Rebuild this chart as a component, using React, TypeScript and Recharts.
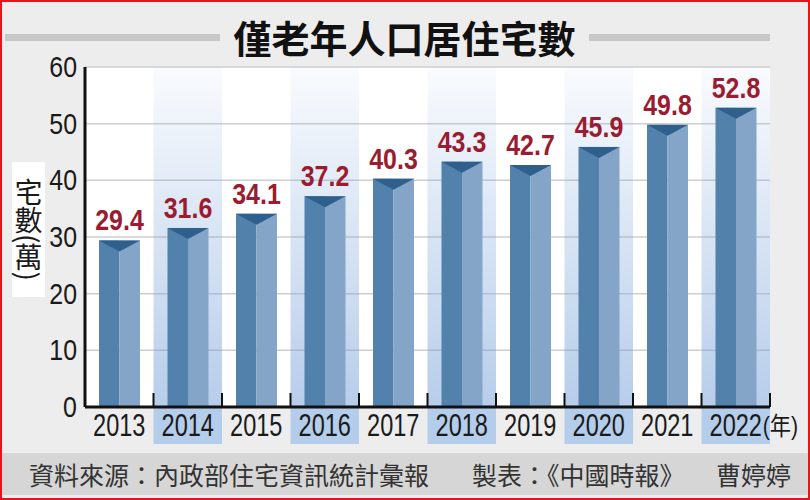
import React from "react";
import { BarChart, Bar, XAxis, YAxis, CartesianGrid, ReferenceArea, LabelList } from "recharts";

// 僅老年人口居住宅數 (萬宅), 2013-2022
const years = ["2013", "2014", "2015", "2016", "2017", "2018", "2019", "2020", "2021", "2022"];
const homes = [29.4, 31.6, 34.1, 37.2, 40.3, 43.3, 42.7, 45.9, 49.8, 52.8];
const shadedYears = ["2014", "2016", "2018", "2020", "2022"];
const yTicks = [0, 10, 20, 30, 40, 50, 60];

const W = 810;
const H = 500;
const PLOT_LEFT = 85;
const PLOT_RIGHT = 770;
const PLOT_TOP = 67;
const PLOT_BOTTOM = 407;
const BAND_W = (PLOT_RIGHT - PLOT_LEFT) / years.length;

const NUM_FONT = "'Liberation Sans', Arial, sans-serif";
const CJK_FONT = "'Noto Sans CJK TC', 'Noto Sans CJK SC', sans-serif";

const data = years.map((year, i) => ({ year, value: homes[i] }));

const BandShape = (p: any) => (
  <g>
    <rect x={p.x} y={p.y} width={p.width} height={p.height} fill="url(#bandGrad)" />
    <rect x={p.x} y={p.y + p.height} width={p.width} height={37} fill="#b4cdea" />
  </g>
);

const PrismBar = (p: any) => {
  const { x, y, width, height } = p;
  const half = width / 2;
  return (
    <g>
      <rect x={x} y={y} width={half} height={height} fill="#5281ac" />
      <rect x={x + half} y={y} width={half} height={height} fill="#84a5c7" />
      <polygon points={`${x},${y} ${x + width},${y} ${x + half},${y + 11}`} fill="#2f5f8c" />
    </g>
  );
};

const ValueLabel = (p: any) => {
  const cx = p.x + p.width / 2;
  return (
    <text
      transform={`translate(${cx},${p.y - 10}) scale(0.86,1)`}
      textAnchor="middle"
      fill="#9b1b30"
      fontSize={29}
      fontWeight={700}
      fontFamily={NUM_FONT}
    >
      {p.value}
    </text>
  );
};

const YearTick = (p: any) => {
  const { x, y, payload, index } = p;
  return (
    <g>
      <line x1={x + BAND_W / 2} x2={x + BAND_W / 2} y1={y - 14} y2={y} stroke="#111" strokeWidth={2} />
      <text
        transform={`translate(${x},${y + 29}) scale(0.76,1)`}
        textAnchor="middle"
        fill="#1a1a1a"
        fontSize={31}
        fontFamily={NUM_FONT}
      >
        {payload.value}
      </text>
      {index === years.length - 1 && (
        <text
          transform={`translate(${x + 27},${y + 28}) scale(0.85,1)`}
          textAnchor="start"
          fill="#1a1a1a"
          fontSize={25}
          fontFamily={`${NUM_FONT}, ${CJK_FONT}`}
        >
          (年)
        </text>
      )}
    </g>
  );
};

const ValueTick = (p: any) => (
  <text
    transform={`translate(${p.x},${p.y + 10}) scale(0.86,1)`}
    textAnchor="end"
    fill="#1a1a1a"
    fontSize={29}
    fontFamily={NUM_FONT}
  >
    {p.payload.value}
  </text>
);

const footerText = {
  position: "absolute" as const,
  top: 457,
  fontFamily: CJK_FONT,
  fontSize: 25,
  color: "#333",
  lineHeight: "34px",
  whiteSpace: "nowrap" as const,
};

export default function App() {
  return (
    <div style={{ position: "absolute", left: 0, top: 0, width: W, height: H, background: "#ededed", overflow: "hidden" }}>
      {/* title with side rules */}
      <div style={{ position: "absolute", left: 5, top: 34, width: 215, height: 7, background: "#c8c8c8" }} />
      <div style={{ position: "absolute", left: 589, top: 34, width: 181, height: 7, background: "#c8c8c8" }} />
      <div
        style={{
          position: "absolute",
          left: 220,
          width: 369,
          top: 12,
          textAlign: "center",
          fontFamily: CJK_FONT,
          fontSize: 38,
          fontWeight: 700,
          lineHeight: "50px",
          color: "#111",
        }}
      >
        僅老年人口居住宅數
      </div>

      <div style={{ position: "absolute", left: 0, top: 0 }}>
        <BarChart width={W} height={H} data={data} margin={{ top: PLOT_TOP, right: W - PLOT_RIGHT, bottom: 0, left: 0 }}>
          <defs>
            <linearGradient id="bandGrad" x1="0" y1="0" x2="0" y2="1">
              <stop offset="0%" stopColor="#6f9bd6" stopOpacity={0.04} />
              <stop offset="100%" stopColor="#6f9bd6" stopOpacity={0.5} />
            </linearGradient>
          </defs>
          <CartesianGrid vertical={false} stroke="#cfcfcf" strokeWidth={1.5} fill="#ffffff" />
          {shadedYears.map((yr) => (
            <ReferenceArea key={yr} x1={yr} x2={yr} y1={0} y2={60} shape={BandShape} />
          ))}
          <XAxis
            dataKey="year"
            interval={0}
            tickLine={false}
            tickSize={0}
            tickMargin={0}
            height={H - PLOT_BOTTOM}
            axisLine={{ stroke: "#111", strokeWidth: 3 }}
            tick={YearTick}
          />
          <YAxis
            domain={[0, 60]}
            ticks={yTicks}
            interval={0}
            width={PLOT_LEFT}
            tickLine={false}
            tickSize={0}
            tickMargin={8}
            axisLine={{ stroke: "#111", strokeWidth: 3 }}
            tick={ValueTick}
          />
          <Bar dataKey="value" barSize={41} shape={PrismBar} isAnimationActive={false}>
            <LabelList dataKey="value" content={ValueLabel} />
          </Bar>
        </BarChart>
      </div>

      {/* y-axis unit label */}
      <div
        style={{
          position: "absolute",
          left: 12,
          top: 162,
          width: 33,
          height: 135,
          background: "#ffffff",
          display: "flex",
          justifyContent: "center",
          alignItems: "center",
        }}
      >
        <span style={{ writingMode: "vertical-rl", fontFamily: CJK_FONT, fontSize: 28, color: "#1a1a1a", lineHeight: 1 }}>
          宅數(萬)
        </span>
      </div>

      {/* footer */}
      <div style={{ position: "absolute", left: 2, right: 2, top: 453, height: 42, background: "#d6d6d6" }} />
      <div style={{ ...footerText, left: 29 }}>資料來源：內政部住宅資訊統計彙報</div>
      <div style={{ ...footerText, left: 472 }}>製表：《中國時報》</div>
      <div style={{ ...footerText, left: 716 }}>曹婷婷</div>

      {/* red frame */}
      <div style={{ position: "absolute", left: 0, top: 0, width: W, height: H, boxSizing: "border-box", border: "2px solid #e8141b", pointerEvents: "none" }} />
    </div>
  );
}
